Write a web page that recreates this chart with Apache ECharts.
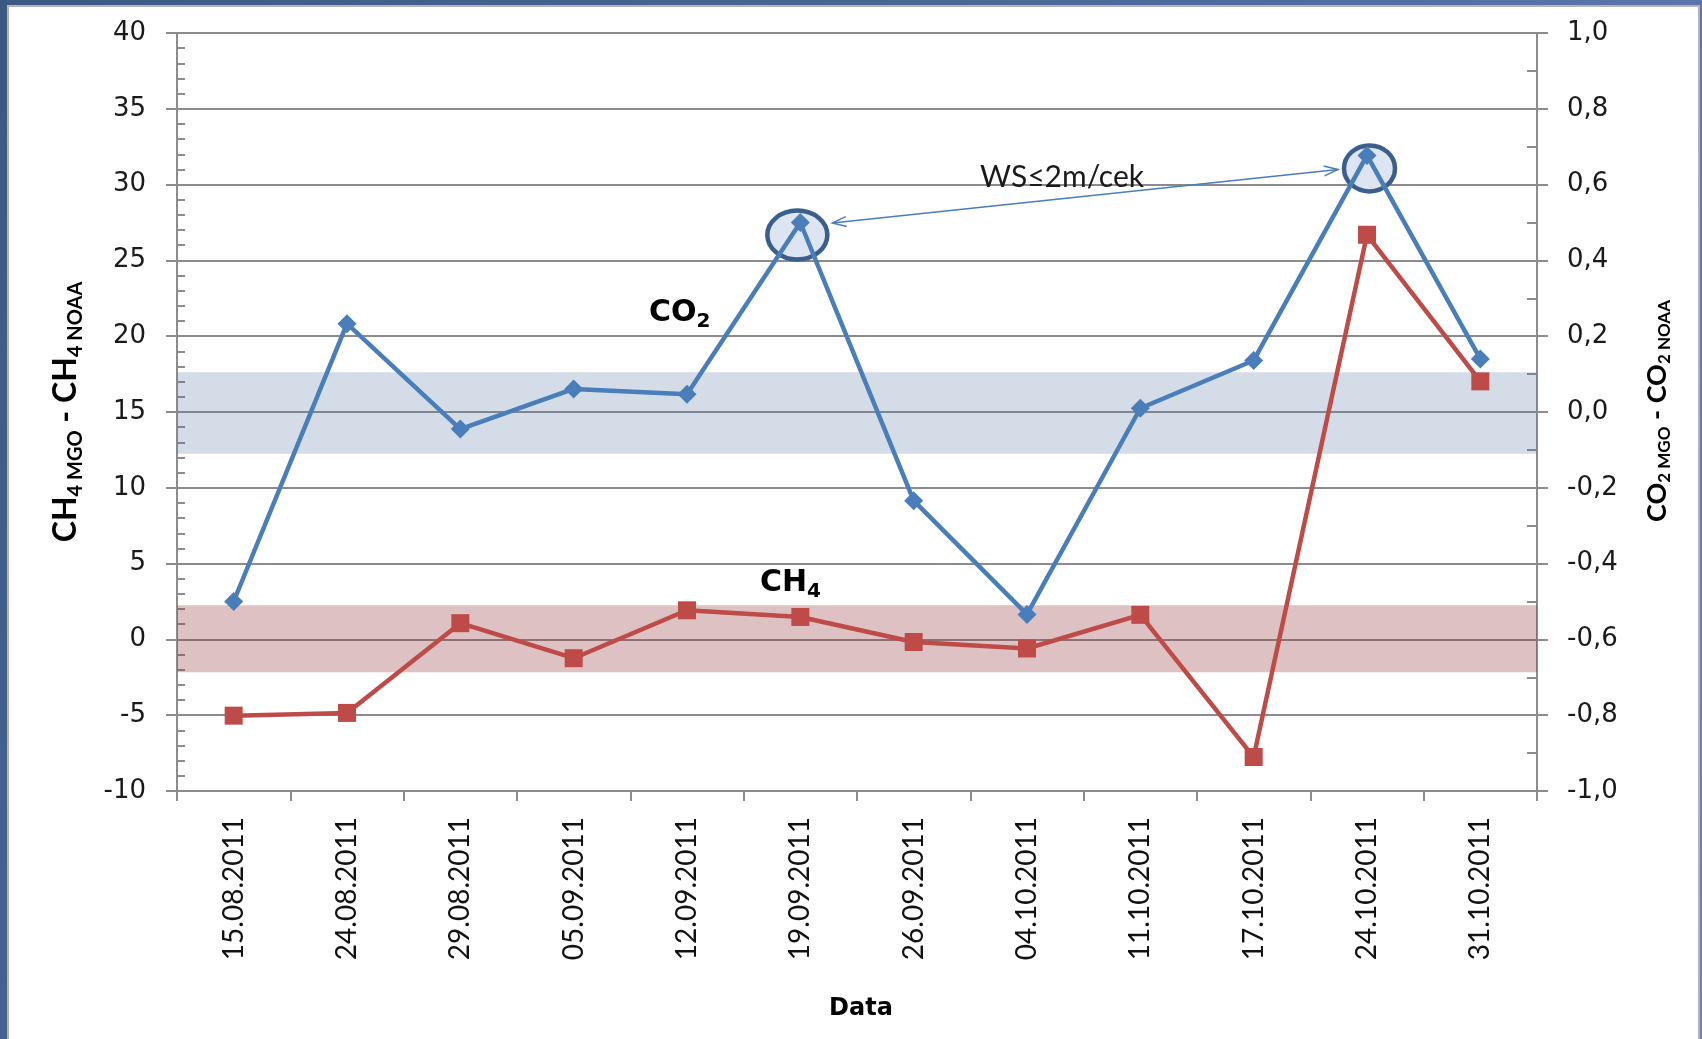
<!DOCTYPE html>
<html>
<head>
<meta charset="utf-8">
<title>CH4 / CO2 MGO - NOAA</title>
<script src="https://cdn.jsdelivr.net/npm/echarts@6/dist/echarts.min.js"></script>
<style>
  html, body {
    margin: 0;
    padding: 0;
  }
  body {
    width: 1702px;
    height: 1039px;
    overflow: hidden;
    position: relative;
    background: linear-gradient(120deg, #3a5a84 0%, #4f6c9e 55%, #6d82bd 100%);
  }
  .panel {
    position: absolute;
    left: 7px;
    top: 5px;
    width: 1689px;
    height: 1040px;
    background: #fff;
    border: 2px solid #b4b4b4;
  }
  #main {
    position: absolute;
    left: 0;
    top: 0;
    width: 1702px;
    height: 1039px;
  }
</style>
</head>
<body>
<div class="panel"></div>
<div id="main"></div>
<script>
// dates of the samples
var dates = [
  "15.08.2011", "24.08.2011", "29.08.2011", "05.09.2011",
  "12.09.2011", "19.09.2011", "26.09.2011", "04.10.2011",
  "11.10.2011", "17.10.2011", "24.10.2011", "31.10.2011",
];
// CO2 MGO - CO2 NOAA (right axis)
var co2 = [-0.50, 0.233, -0.045, 0.061, 0.047, 0.50, -0.234, -0.534, 0.01, 0.136, 0.677, 0.14];
// CH4 MGO - CH4 NOAA (left axis)
var ch4 = [-5.03, -4.85, 1.07, -1.24, 1.92, 1.48, -0.17, -0.6, 1.62, -7.76, 26.69, 17.02];
// shaded ranges
var co2Band = [-0.11, 0.105];
var ch4Band = [-2.17, 2.25];

var gray = "#8c8c8c";
var blue = "#4a7ebb";
var red = "#be4b48";

var myChart = echarts.init(document.getElementById("main"));

var option = {
  backgroundColor: "transparent",
  animation: false,
  grid: { left: 177, right: 165, top: 33, bottom: 248 },
  xAxis: {
    type: "category",
    data: dates,
    boundaryGap: true,
    axisLine: { onZero: false, lineStyle: { color: gray, width: 2 } },
    axisTick: { show: true, length: 10, lineStyle: { color: gray, width: 2 } },
    axisLabel: {
      interval: 0,
      rotate: 90,
      margin: 26,
      color: "#111",
      fontFamily: "Lato",
      fontSize: 28,
    },
    splitLine: { show: false },
  },
  yAxis: [
    {
      type: "value",
      position: "left",
      min: -10,
      max: 40,
      interval: 5,
      axisLine: { show: true, lineStyle: { color: gray, width: 2 } },
      axisTick: { show: true, length: 11, lineStyle: { color: gray, width: 2 } },
      minorTick: { show: true, splitNumber: 5, length: -8, lineStyle: { color: gray, width: 2 } },
      axisLabel: {
        margin: 31,
        color: "#1a1a1a",
        fontFamily: "DejaVu Sans",
        fontSize: 26,
      },
      splitLine: { show: true, lineStyle: { color: gray, width: 2 } },
    },
    {
      type: "value",
      position: "right",
      min: -1,
      max: 1,
      interval: 0.2,
      axisLine: { show: true, lineStyle: { color: gray, width: 2 } },
      axisTick: { show: true, length: 11, lineStyle: { color: gray, width: 2 } },
      minorTick: { show: true, splitNumber: 2, length: -10, lineStyle: { color: gray, width: 2 } },
      axisLabel: {
        margin: 30,
        color: "#1a1a1a",
        fontFamily: "DejaVu Sans",
        fontSize: 26,
        formatter: function (v) {
          return v.toFixed(1).replace(".", ",");
        },
      },
      splitLine: { show: false },
    },
  ],
  series: [
    {
      name: "CO2",
      type: "line",
      yAxisIndex: 1,
      data: co2,
      z: 3,
      color: blue,
      symbol: "diamond",
      symbolSize: 19,
      lineStyle: { color: blue, width: 4.5 },
      itemStyle: { color: blue },
    },
    {
      name: "CH4",
      type: "line",
      yAxisIndex: 0,
      data: ch4,
      z: 3,
      color: red,
      symbol: "rect",
      symbolSize: 18,
      lineStyle: { color: red, width: 4.5 },
      itemStyle: { color: red },
    },
    // bands drawn on top, semi transparent
    {
      name: "co2band",
      type: "line",
      yAxisIndex: 1,
      data: [],
      z: 5,
      silent: true,
      markArea: {
        silent: true,
        itemStyle: { color: "rgba(80,115,160,0.25)" },
        data: [[{ yAxis: co2Band[0] }, { yAxis: co2Band[1] }]],
      },
    },
    {
      name: "ch4band",
      type: "line",
      yAxisIndex: 0,
      data: [],
      z: 5,
      silent: true,
      markArea: {
        silent: true,
        itemStyle: { color: "rgba(150,58,61,0.31)" },
        data: [[{ yAxis: ch4Band[0] }, { yAxis: ch4Band[1] }]],
      },
    },
  ],
};

myChart.setOption(option);

// annotations: circles around two CO2 peaks, double arrow, labels
var p1 = myChart.convertToPixel({ seriesIndex: 0 }, [5, co2[5]]);
var p2 = myChart.convertToPixel({ seriesIndex: 0 }, [10, co2[10]]);

function arrowHead(tip, from) {
  var dx = from[0] - tip[0];
  var dy = from[1] - tip[1];
  var len = Math.sqrt(dx * dx + dy * dy);
  var ux = dx / len, uy = dy / len;
  var L = 14, W = 5;
  return [
    [tip[0] + ux * L - uy * W, tip[1] + uy * L + ux * W],
    [tip[0], tip[1]],
    [tip[0] + ux * L + uy * W, tip[1] + uy * L - ux * W],
  ];
}

var a1 = [p1[0] + 32, p1[1] + 0.5];
var a2 = [p2[0] - 29, p2[1] + 14];

var bigRich = {
  b: { fontFamily: "DejaVu Sans", fontWeight: "bold", fontSize: 30, lineHeight: 30, padding: [0, 0, 8, 0], color: "#000" },
  s: { fontFamily: "DejaVu Sans", fontWeight: "bold", fontSize: 20, lineHeight: 20, verticalAlign: "bottom", color: "#000" },
};

myChart.setOption({
  graphic: [
    {
      type: "ellipse",
      z: 1,
      shape: { cx: p1[0] - 3, cy: p1[1] + 12.5, rx: 30, ry: 24.5 },
      style: { fill: "#dce5f1", stroke: "#3b5f8c", lineWidth: 4.5 },
    },
    {
      type: "ellipse",
      z: 1,
      shape: { cx: p2[0] + 2.5, cy: p2[1] + 13, rx: 25.5, ry: 23 },
      style: { fill: "#dce5f1", stroke: "#3b5f8c", lineWidth: 4.5 },
    },
    {
      type: "line",
      z: 6,
      shape: { x1: a1[0], y1: a1[1], x2: a2[0], y2: a2[1] },
      style: { stroke: blue, lineWidth: 1.5 },
    },
    {
      type: "polyline",
      z: 6,
      shape: { points: arrowHead(a1, a2) },
      style: { stroke: blue, lineWidth: 1.5, fill: null },
    },
    {
      type: "polyline",
      z: 6,
      shape: { points: arrowHead(a2, a1) },
      style: { stroke: blue, lineWidth: 1.5, fill: null },
    },
    {
      type: "text",
      z: 7,
      x: 1062,
      y: 177,
      style: {
        text: "WS≤2m/cek",
        fontFamily: "Lato",
        fontSize: 30,
        fill: "#1a1a1a",
        textAlign: "center",
        textVerticalAlign: "middle",
      },
    },
    {
      type: "text",
      z: 7,
      x: 649,
      y: 317,
      style: {
        text: "{b|CO}{s|2}",
        rich: bigRich,
        textAlign: "left",
        textVerticalAlign: "middle",
      },
    },
    {
      type: "text",
      z: 7,
      x: 760,
      y: 587,
      style: {
        text: "{b|CH}{s|4}",
        rich: bigRich,
        textAlign: "left",
        textVerticalAlign: "middle",
      },
    },
    {
      type: "text",
      z: 7,
      x: 70,
      y: 412,
      rotation: Math.PI / 2,
      style: {
        text: "{b|CH}{s|4 MGO}{b| - CH}{s|4 NOAA}",
        rich: {
          b: { fontFamily: "Lato", fontWeight: "bold", fontSize: 32, lineHeight: 32, padding: [0, 0, 8, 0], color: "#000" },
          s: { fontFamily: "Lato", fontWeight: "bold", fontSize: 20, lineHeight: 20, verticalAlign: "bottom", color: "#000" },
        },
        textAlign: "center",
        textVerticalAlign: "middle",
      },
    },
    {
      type: "text",
      z: 7,
      x: 1660,
      y: 411,
      rotation: Math.PI / 2,
      style: {
        text: "{b|CO}{s|2 MGO}{b| - CO}{s|2 NOAA}",
        rich: {
          b: { fontFamily: "Lato", fontWeight: "bold", fontSize: 27, lineHeight: 27, padding: [0, 0, 6, 0], color: "#000" },
          s: { fontFamily: "Lato", fontWeight: "bold", fontSize: 17, lineHeight: 17, verticalAlign: "bottom", color: "#000" },
        },
        textAlign: "center",
        textVerticalAlign: "middle",
      },
    },
    {
      type: "text",
      z: 7,
      x: 861,
      y: 1009,
      style: {
        text: "Data",
        fontFamily: "DejaVu Sans",
        fontWeight: "bold",
        fontSize: 24,
        fill: "#000",
        textAlign: "center",
        textVerticalAlign: "middle",
      },
    },
  ],
});
</script>
</body>
</html>
